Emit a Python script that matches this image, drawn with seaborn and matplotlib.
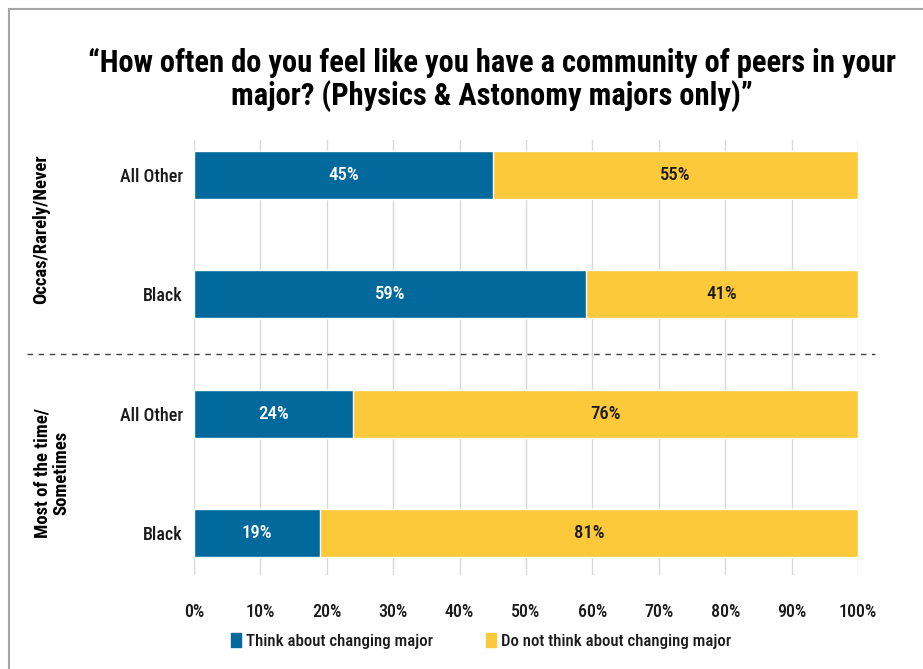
import matplotlib
matplotlib.use("Agg")
import matplotlib.pyplot as plt
from matplotlib.patches import Rectangle
from matplotlib.transforms import blended_transform_factory
import seaborn as sns
import pandas as pd

# Data
groups = ["Occas/Rarely/Never", "Most of the time/\nSometimes"]
row_labels = ["All Other", "Black", "All Other", "Black"]
think_change = [45, 59, 24, 19]
not_think_change = [55, 41, 76, 81]
x_ticks = [0, 10, 20, 30, 40, 50, 60, 70, 80, 90, 100]
series_names = ["Think about changing major", "Do not think about changing major"]
title = ("\u201cHow often do you feel like you have a community of peers in your\n"
         "major? (Physics & Astonomy majors only)\u201d")

BLUE = "#02699C"
YELLOW = "#FCC93A"
INK = "#1a1a1a"

sns.set_theme(style="white")
plt.rcParams["font.family"] = ["Roboto Condensed", "DejaVu Sans"]

df = pd.DataFrame({
    "row": list(range(len(row_labels))),
    "think": think_change,
    "not_think": not_think_change,
})
df["total"] = df["think"] + df["not_think"]

fig = plt.figure(figsize=(9.23, 6.69), dpi=100)
ax = fig.add_axes([194 / 923, 1 - 575 / 669, 664 / 923, 435 / 669])

# Stacked bars: full-length yellow first, blue share drawn over it
sns.barplot(data=df, x="total", y="row", orient="h", color=YELLOW,
            width=0.4, saturation=1, ax=ax, zorder=2)
sns.barplot(data=df, x="think", y="row", orient="h", color=BLUE,
            width=0.4, saturation=1, ax=ax, zorder=3)

for i, (a, b) in enumerate(zip(think_change, not_think_change)):
    ax.text(a / 2, i, f"{a}%", ha="center", va="center", color="white",
            fontsize=13.5, fontweight="medium", zorder=4)
    ax.text(a + b / 2, i, f"{b}%", ha="center", va="center", color=INK,
            fontsize=13.5, fontweight="medium", zorder=4)

ax.set_xlim(0, 100)
ax.set_ylim(3.35, -0.29)
ax.set_xticks(x_ticks)
ax.set_xticklabels([f"{t}%" for t in x_ticks], fontsize=13, color=INK,
                   fontweight="medium")
ax.set_yticks(range(len(row_labels)))
ax.set_yticklabels(row_labels, fontsize=13, color=INK, fontweight="medium")
ax.tick_params(axis="x", length=0, pad=20)
ax.tick_params(axis="y", length=0, pad=8)
ax.set_xlabel("")
ax.set_ylabel("")
ax.grid(axis="x", color="#D9D9D9", linewidth=1, zorder=0)
ax.set_axisbelow(True)
for s in ax.spines.values():
    s.set_visible(False)

# Group separator and group labels
trans = blended_transform_factory(ax.transAxes, ax.transData)
ax.plot([-0.2515, 1.0256], [1.5, 1.5], transform=trans, color="#404040",
        linestyle=(0, (4, 4)), linewidth=1, clip_on=False, zorder=5)
ax.text((41 - 194) / 664, 0.46, groups[0], transform=trans, rotation=90,
        ha="center", va="center", fontsize=13.5, fontweight="bold", color="black")
ax.text((52 - 194) / 664, 2.5, groups[1], transform=trans, rotation=90,
        ha="center", va="center", fontsize=13.5, fontweight="bold", color="black",
        multialignment="center", linespacing=1.1)

# Title
fig.text(492 / 923, 1 - 80 / 669, title, ha="center", va="center",
         fontsize=22, fontweight="bold", linespacing=1.05, color="black")

# Legend
handles = [Rectangle((0, 0), 1, 1, color=BLUE), Rectangle((0, 0), 1, 1, color=YELLOW)]
leg = fig.legend(handles, series_names, loc="center",
                 bbox_to_anchor=(481 / 923, 1 - 641 / 669), ncol=2, frameon=False,
                 fontsize=12.2, handlelength=0.6, handleheight=0.9,
                 handletextpad=0.3, columnspacing=3.1)
for t in leg.get_texts():
    t.set_color(INK)
    t.set_fontweight("medium")

# Outer frame
fig.patches.append(Rectangle((9 / 923, -0.1), 1.2, 1 - 9 / 669 + 0.1,
                             transform=fig.transFigure, fill=False,
                             edgecolor="#A6A6A6", linewidth=1.5))

fig.savefig("out.png", dpi=100)
